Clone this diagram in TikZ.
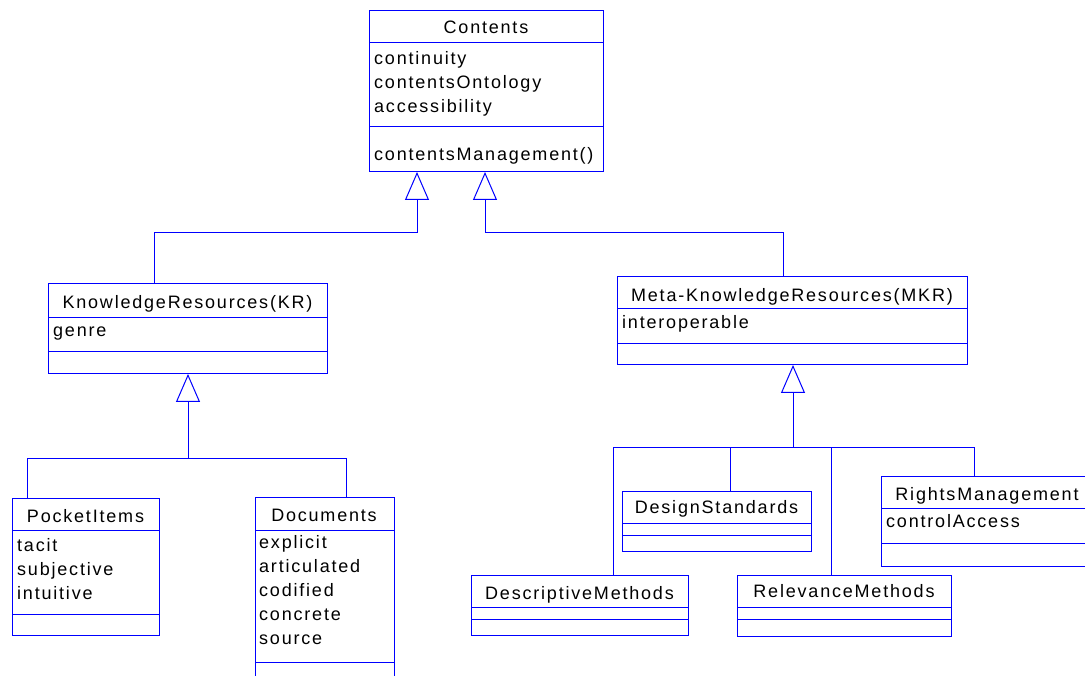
\documentclass[tikz,border=0pt]{standalone}
\usepackage{fontspec}
\setmainfont{Liberation Sans}[LetterSpace=10]
\usetikzlibrary{arrows.meta}
\definecolor{umlblue}{RGB}{0,0,255}
\tikzset{
  cls/.style={draw=umlblue, line width=1pt, inner sep=0pt, outer sep=0pt, anchor=north west, fill=white},
  txt/.style={font=\fontsize{18}{22}\selectfont, text=black, inner sep=0pt, anchor=base west},
  ttl/.style={txt, anchor=base},
  divl/.style={draw=umlblue, line width=1pt},
  lnk/.style={draw=umlblue, line width=1pt},
  gen/.style={lnk, -{Triangle[open, length=28pt, width=24pt, line width=1pt]}}
}
\begin{document}
\begin{tikzpicture}[x=1pt,y=-1pt]
\useasboundingbox (0,0) rectangle (1085,676);
\clip (0,0) rectangle (1085,676);

% ---------- class boxes ----------
\node[cls, minimum width=234pt, minimum height=161pt] (contents) at (369,11) {};
\node[cls, minimum width=279pt, minimum height=90pt] (kr) at (48,284) {};
\node[cls, minimum width=350pt, minimum height=88pt] (mkr) at (617,277) {};
\node[cls, minimum width=147pt, minimum height=137pt] (pocket) at (12,498) {};
\node[cls, minimum width=139pt, minimum height=200pt] (docs) at (255,497) {};
\node[cls, minimum width=189pt, minimum height=60pt] (design) at (622,491) {};
\node[cls, minimum width=217pt, minimum height=60pt] (descr) at (471,575) {};
\node[cls, minimum width=214pt, minimum height=61pt] (relev) at (737,575) {};
\node[cls, minimum width=212pt, minimum height=90pt] (rights) at (881,476) {};

% ---------- compartment dividers ----------
\draw[divl] (369,43) -- (603,43);  \draw[divl] (369,127) -- (603,127);
\draw[divl] (48,318) -- (327,318); \draw[divl] (48,352) -- (327,352);
\draw[divl] (617,309) -- (967,309); \draw[divl] (617,344) -- (967,344);
\draw[divl] (12,530) -- (159,530); \draw[divl] (12,614) -- (159,614);
\draw[divl] (255,530) -- (394,530); \draw[divl] (255,662) -- (394,662);
\draw[divl] (622,523) -- (811,523); \draw[divl] (622,535) -- (811,535);
\draw[divl] (471,607) -- (688,607); \draw[divl] (471,619) -- (688,619);
\draw[divl] (737,607) -- (951,607); \draw[divl] (737,619) -- (951,619);
\draw[divl] (881,508) -- (1093,508); \draw[divl] (881,543) -- (1093,543);

% ---------- texts ----------
\node[ttl] (t-contents) at (486,34) {Contents};
\node[txt] (a-c1) at (374,65) {continuity};
\node[txt] (a-c2) at (374,89) {contentsOntology};
\node[txt] (a-c3) at (374,113) {accessibility};
\node[txt] (m-c1) at (374,161) {contentsManagement()};

\node[ttl] (t-kr) at (187.5,309) {KnowledgeResources(KR)};
\node[txt] (a-kr1) at (53,337) {genre};

\node[ttl] (t-mkr) at (792,302) {Meta-KnowledgeResources(MKR)};
\node[txt] (a-mkr1) at (622,329) {interoperable};

\node[ttl] (t-pocket) at (85.5,522) {PocketItems};
\node[txt] (a-p1) at (17,551) {tacit};
\node[txt] (a-p2) at (17,575) {subjective};
\node[txt] (a-p3) at (17,599) {intuitive};

\node[ttl] (t-docs) at (324,521) {Documents};
\node[txt] (a-d1) at (259,548) {explicit};
\node[txt] (a-d2) at (259,572) {articulated};
\node[txt] (a-d3) at (259,596) {codified};
\node[txt] (a-d4) at (259,620) {concrete};
\node[txt] (a-d5) at (259,644) {source};

\node[ttl] (t-design) at (716.5,513) {DesignStandards};
\node[ttl] (t-descr) at (579.5,599) {DescriptiveMethods};
\node[ttl] (t-relev) at (844,597) {RelevanceMethods};
\node[ttl] (t-rights) at (987,500) {RightsManagement};
\node[txt] (a-r1) at (886,527) {controlAccess};

% ---------- connection points ----------
\coordinate (c-in1) at (417,172);
\coordinate (c-in2) at (485,172);
\coordinate (kr-top) at (154,284);
\coordinate (mkr-top) at (783,277);
\coordinate (kr-bot) at (188,374);
\coordinate (kr-bus) at (188,458);
\coordinate (mkr-bot) at (793,365);
\coordinate (mkr-bus) at (793,447);
\coordinate (pocket-top) at (27,498);
\coordinate (docs-top) at (346,497);
\coordinate (design-top) at (730,491);
\coordinate (descr-top) at (613,575);
\coordinate (relev-top) at (831,575);
\coordinate (rights-top) at (974,476);

% ---------- generalizations ----------
\draw[gen] (kr-top) |- (c-in1 |- 0,233) -- (c-in1);
\draw[gen] (mkr-top) |- (c-in2 |- 0,233) -- (c-in2);

\draw[gen] (kr-bus) -- (kr-bot);
\draw[lnk] (pocket-top) |- (docs-top |- kr-bus) -- (docs-top);

\draw[gen] (mkr-bus) -- (mkr-bot);
\draw[lnk] (descr-top) |- (rights-top |- mkr-bus) -- (rights-top);
\draw[lnk] (design-top) -- (design-top |- mkr-bus);
\draw[lnk] (relev-top) -- (relev-top |- mkr-bus);
\end{tikzpicture}
\end{document}
